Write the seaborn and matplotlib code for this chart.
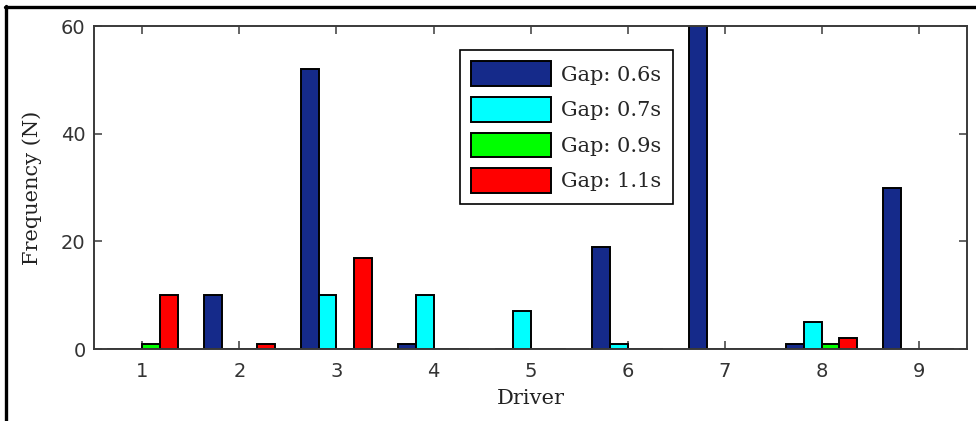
import matplotlib
matplotlib.use("Agg")
import matplotlib.pyplot as plt
from matplotlib.lines import Line2D
import pandas as pd
import seaborn as sns

# Counts per driver for each headway gap setting
drivers = [1, 2, 3, 4, 5, 6, 7, 8, 9]
gap_labels = ["Gap: 0.6s", "Gap: 0.7s", "Gap: 0.9s", "Gap: 1.1s"]
gap_06 = [0, 10, 52, 1, 0, 19, 60, 1, 30]
gap_07 = [0, 0, 10, 10, 7, 1, 0, 5, 0]
gap_09 = [1, 0, 0, 0, 0, 0, 0, 1, 0]
gap_11 = [10, 1, 17, 0, 0, 0, 0, 2, 0]
bar_colors = ["#152A8A", "#00FFFF", "#00FF00", "#FF0000"]

rows = []
for label, values in zip(gap_labels, [gap_06, gap_07, gap_09, gap_11]):
    for d, v in zip(drivers, values):
        rows.append({"Driver": str(d), "Frequency": v, "Gap": label})
df = pd.DataFrame(rows)

sns.set_style("ticks")
plt.rcParams["font.family"] = ["DejaVu Serif"]

fig = plt.figure(figsize=(9.76, 4.21), dpi=100)
ax = fig.add_axes([0.0963, 0.171, 0.8945, 0.767])

sns.barplot(
    data=df, x="Driver", y="Frequency", hue="Gap",
    hue_order=gap_labels, order=[str(d) for d in drivers],
    palette=bar_colors, saturation=1, width=0.73,
    edgecolor="black", linewidth=1.4, ax=ax, errorbar=None,
)

ax.set_xlim(-0.5, 8.5)
ax.set_ylim(0, 60)
ax.set_yticks([0, 20, 40, 60])

for side in ["top", "right", "left", "bottom"]:
    ax.spines[side].set_visible(True)
    ax.spines[side].set_color("#3a3a3a")
    ax.spines[side].set_linewidth(1.4)

ax.tick_params(axis="both", direction="in", length=6, width=1.1,
               color="#3a3a3a", top=True, right=True,
               labelsize=14, labelcolor="#333333")
for lbl in ax.get_xticklabels() + ax.get_yticklabels():
    lbl.set_family("DejaVu Sans")
ax.tick_params(axis="x", pad=9)
ax.tick_params(axis="y", pad=6)

ax.set_xlabel("Driver", fontsize=15, color="#222222", labelpad=6)
ax.set_ylabel("Frequency (N)", fontsize=15, color="#222222", labelpad=14)

leg = ax.legend(
    loc="upper left", bbox_to_anchor=(0.419, 0.926),
    fontsize=15, frameon=True, fancybox=False, shadow=False,
    handlelength=3.85, handleheight=1.45, labelspacing=0.52,
    handletextpad=0.45, borderpad=0.55, borderaxespad=0.0,
)
leg.get_frame().set_edgecolor("black")
leg.get_frame().set_linewidth(1.2)
leg.get_frame().set_alpha(1)

# Outer frame lines along the top and left edges of the figure
fig.add_artist(Line2D([5 / 976, 1.0], [1 - 7 / 421, 1 - 7 / 421],
                      transform=fig.transFigure, color="black", lw=2.4))
fig.add_artist(Line2D([6 / 976, 6 / 976], [0.0, 1 - 6 / 421],
                      transform=fig.transFigure, color="black", lw=2.4))

fig.savefig("out.png", dpi=100, facecolor="white")
